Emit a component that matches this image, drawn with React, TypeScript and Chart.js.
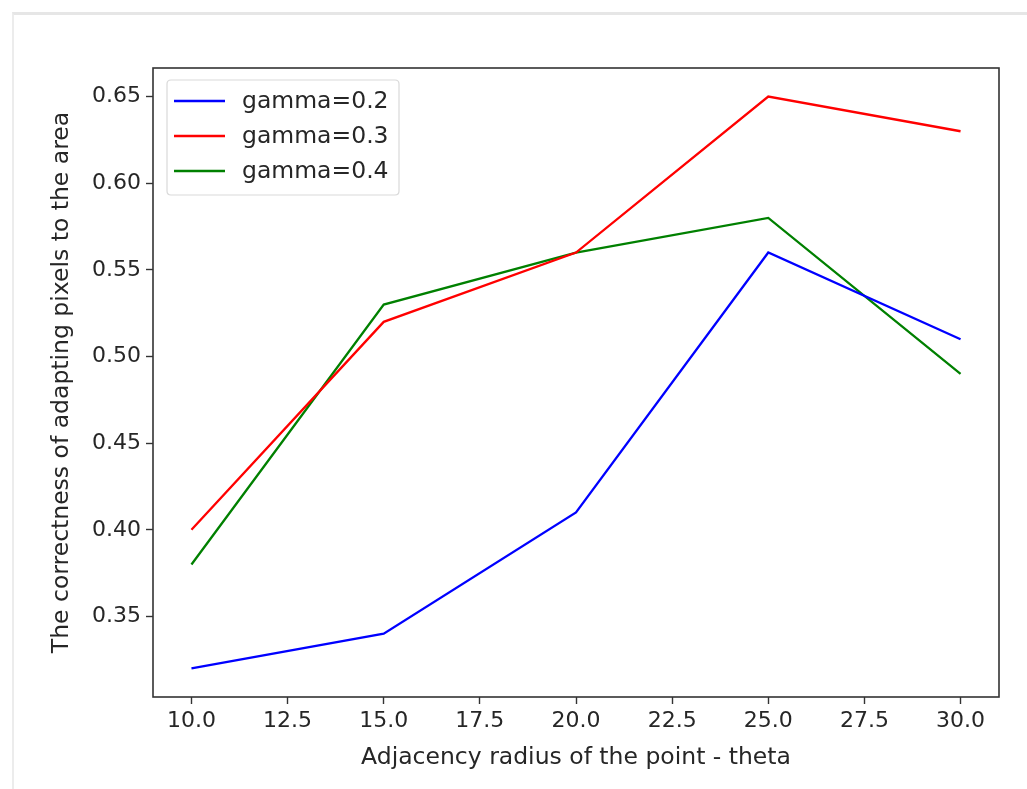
import React, { useEffect, useRef } from "react";
import { Chart, registerables } from "chart.js";

Chart.register(...registerables);

const thetaValues = [10, 15, 20, 25, 30];
const gamma02 = [0.32, 0.34, 0.41, 0.56, 0.51];
const gamma03 = [0.4, 0.52, 0.56, 0.65, 0.63];
const gamma04 = [0.38, 0.53, 0.56, 0.58, 0.49];
const seriesLabels = ["gamma=0.2", "gamma=0.3", "gamma=0.4"];
const xTicks = [10, 12.5, 15, 17.5, 20, 22.5, 25, 27.5, 30];
const yTicks = [0.35, 0.4, 0.45, 0.5, 0.55, 0.6, 0.65];
const xTitle = "Adjacency radius of the point - theta";
const yTitle = "The correctness of adapting pixels to the area";

const FONT = "'DejaVu Sans'";
const FS_TICK = 22;
const FS_TEXT = 23.5;
const TEXT = "#262626";
const AXIS = "#333333";

const framePlugin = {
  id: "frame",
  afterDatasetsDraw(chart: any) {
    const { ctx, chartArea } = chart;
    ctx.save();
    ctx.strokeStyle = AXIS;
    ctx.lineWidth = 1.6;
    ctx.strokeRect(chartArea.left, chartArea.top, chartArea.right - chartArea.left, chartArea.bottom - chartArea.top);
    ctx.restore();
  },
  afterDraw(chart: any) {
    const { ctx, chartArea } = chart;
    const x0 = chartArea.left + 14;
    const y0 = chartArea.top + 12;
    const w = 232;
    const rowH = 35;
    const h = rowH * chart.data.datasets.length + 10;
    ctx.save();
    ctx.fillStyle = "rgba(255,255,255,0.85)";
    ctx.strokeStyle = "#d9d9d9";
    ctx.lineWidth = 1.2;
    const r = 4;
    ctx.beginPath();
    ctx.moveTo(x0 + r, y0);
    ctx.lineTo(x0 + w - r, y0);
    ctx.quadraticCurveTo(x0 + w, y0, x0 + w, y0 + r);
    ctx.lineTo(x0 + w, y0 + h - r);
    ctx.quadraticCurveTo(x0 + w, y0 + h, x0 + w - r, y0 + h);
    ctx.lineTo(x0 + r, y0 + h);
    ctx.quadraticCurveTo(x0, y0 + h, x0, y0 + h - r);
    ctx.lineTo(x0, y0 + r);
    ctx.quadraticCurveTo(x0, y0, x0 + r, y0);
    ctx.closePath();
    ctx.fill();
    ctx.stroke();
    ctx.font = `${FS_TEXT}px ${FONT}`;
    ctx.textBaseline = "middle";
    chart.data.datasets.forEach((ds: any, i: number) => {
      const cy = y0 + 21 + i * rowH;
      ctx.strokeStyle = ds.borderColor;
      ctx.lineWidth = 2.4;
      ctx.beginPath();
      ctx.moveTo(x0 + 7, cy);
      ctx.lineTo(x0 + 58, cy);
      ctx.stroke();
      ctx.fillStyle = TEXT;
      ctx.fillText(ds.label, x0 + 75, cy + 1);
    });
    ctx.restore();
  },
};

export default function App() {
  const canvasRef = useRef<HTMLCanvasElement>(null);

  useEffect(() => {
    const canvas = canvasRef.current;
    if (!canvas) return;
    const mk = (label: string, vals: number[], color: string) => ({
      label,
      data: thetaValues.map((x, i) => ({ x, y: vals[i] })),
      borderColor: color,
      backgroundColor: color,
      borderWidth: 2.3,
      pointRadius: 0,
      tension: 0,
      fill: false,
    });
    const chart = new Chart(canvas, {
      type: "line",
      data: {
        datasets: [
          mk(seriesLabels[0], gamma02, "#0000ff"),
          mk(seriesLabels[1], gamma03, "#ff0000"),
          mk(seriesLabels[2], gamma04, "#008000"),
        ],
      },
      options: {
        animation: false,
        responsive: false,
        maintainAspectRatio: false,
        layout: { padding: { left: 0, right: 28, top: 68, bottom: 0 } },
        plugins: {
          legend: { display: false },
          tooltip: { enabled: false },
        },
        scales: {
          x: {
            type: "linear",
            min: 9,
            max: 31,
            afterBuildTicks: (scale: any) => {
              scale.ticks = xTicks.map((v) => ({ value: v }));
            },
            afterFit: (scale: any) => {
              scale.height = 92;
            },
            grid: { drawOnChartArea: false, drawTicks: true, tickLength: 7, tickColor: AXIS, tickWidth: 1.4 },
            border: { display: false },
            ticks: {
              color: TEXT,
              font: { family: FONT, size: FS_TICK },
              padding: 4,
              maxRotation: 0,
              autoSkip: false,
              callback: (v: any) => Number(v).toFixed(1),
            },
            title: {
              display: true,
              text: xTitle,
              color: TEXT,
              font: { family: FONT, size: FS_TEXT },
              padding: { top: 6, bottom: 17 },
            },
          },
          y: {
            type: "linear",
            min: 0.3035,
            max: 0.6665,
            afterBuildTicks: (scale: any) => {
              scale.ticks = yTicks.map((v) => ({ value: v }));
            },
            afterFit: (scale: any) => {
              scale.width = 153;
            },
            grid: { drawOnChartArea: false, drawTicks: true, tickLength: 7, tickColor: AXIS, tickWidth: 1.4 },
            border: { display: false },
            ticks: {
              color: TEXT,
              font: { family: FONT, size: FS_TICK },
              padding: 5,
              autoSkip: false,
              callback: (v: any) => Number(v).toFixed(2),
            },
            title: {
              display: true,
              text: yTitle,
              color: TEXT,
              font: { family: FONT, size: FS_TEXT },
              padding: { top: 48, bottom: 6 },
            },
          },
        },
      },
      plugins: [framePlugin],
    } as any);
    return () => chart.destroy();
  }, []);

  return (
    <div style={{ position: "absolute", left: 0, top: 0, width: 1027, height: 789, background: "#fff", overflow: "hidden" }}>
      <div
        style={{
          position: "absolute",
          left: 12,
          top: 12,
          width: 1015,
          height: 777,
          borderTop: "3px solid #e6e6e6",
          borderLeft: "2px solid #ececec",
        }}
      />
      <canvas ref={canvasRef} width={1027} height={789} style={{ position: "absolute", left: 0, top: 0 }} />
    </div>
  );
}
